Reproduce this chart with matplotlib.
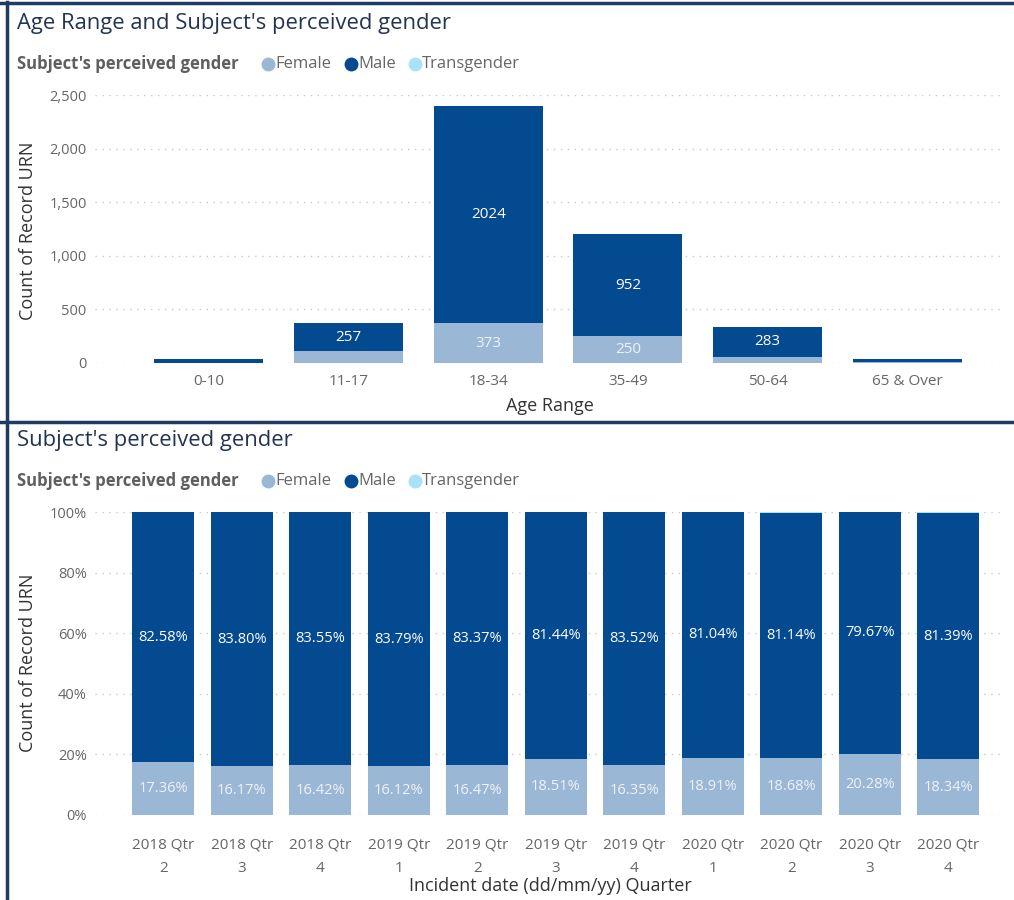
import matplotlib
matplotlib.use("Agg")
import matplotlib.pyplot as plt
from matplotlib.lines import Line2D
import numpy as np

plt.rcParams['font.family'] = ['Open Sans', 'DejaVu Sans']

# ---- data ----
age_ranges = ["0-10", "11-17", "18-34", "35-49", "50-64", "65 & Over"]
age_female = [4, 112, 373, 250, 55, 5]
age_male = [33, 257, 2024, 952, 283, 30]
age_trans = [0, 0, 2, 1, 0, 0]
age_male_labels = ["", "257", "2024", "952", "283", ""]
age_female_labels = ["", "", "373", "250", "", ""]

quarters = ["2018 Qtr\n2", "2018 Qtr\n3", "2018 Qtr\n4", "2019 Qtr\n1", "2019 Qtr\n2",
            "2019 Qtr\n3", "2019 Qtr\n4", "2020 Qtr\n1", "2020 Qtr\n2", "2020 Qtr\n3",
            "2020 Qtr\n4"]
q_female = [17.36, 16.17, 16.42, 16.12, 16.47, 18.51, 16.35, 18.91, 18.68, 20.28, 18.34]
q_male = [82.58, 83.80, 83.55, 83.79, 83.37, 81.44, 83.52, 81.04, 81.14, 79.67, 81.39]
q_trans = [100 - f - m for f, m in zip(q_female, q_male)]

yticks_top = [0, 500, 1000, 1500, 2000, 2500]
yticks_bottom = [0, 20, 40, 60, 80, 100]

# ---- style ----
C_FEMALE = "#9BB7D6"
C_MALE = "#044A91"
C_TRANS = "#A8E2FA"
C_TICK = "#666666"
C_TITLE = "#22344F"
C_GRID = "#C8C8C8"
C_BORDER = "#1F3B63"

W, H = 1014, 900
fig = plt.figure(figsize=(W / 100, H / 100), dpi=100)
fig.patch.set_facecolor("white")


def fx(x):
    return x / W


def fy(y):
    return 1 - y / H


def add_ax(left, top, right, bottom):
    return fig.add_axes([fx(left), fy(bottom), fx(right) - fx(left), (bottom - top) / H])


def legend_row(y):
    fig.text(fx(17), fy(y), "Subject's perceived gender", fontsize=12, fontweight="bold",
             color="#5F5F5F", va="center", ha="left")
    items = [("Female", C_FEMALE, 268), ("Male", C_MALE, 351), ("Transgender", C_TRANS, 415)]
    for name, col, x in items:
        fig.add_artist(Line2D([fx(x)], [fy(y)], marker="o", markersize=9, color=col,
                              transform=fig.transFigure))
        fig.text(fx(x + 7), fy(y), name, fontsize=12, color="#666666", va="center", ha="left")


def style_axes(ax, ticks, fmt):
    for s in ax.spines.values():
        s.set_visible(False)
    ax.set_yticks(ticks)
    ax.set_yticklabels([fmt(t) for t in ticks], color=C_TICK, fontsize=10.5)
    ax.tick_params(axis="both", length=0, pad=6)
    ax.tick_params(axis="x", colors=C_TICK, labelsize=10.5, pad=8)
    ax.grid(axis="y", color=C_GRID, linestyle=(0, (1, 4)), linewidth=1)
    ax.set_axisbelow(True)


# ---- top chart: counts by age range ----
fig.text(fx(17), fy(23), "Age Range and Subject's perceived gender", fontsize=15.8,
         color=C_TITLE, va="center", ha="left")
legend_row(64)

ax1 = add_ax(95, 95, 1005, 363)
x1 = np.arange(len(age_ranges))
bw = 0.78
ax1.bar(x1, age_female, bw, color=C_FEMALE)
ax1.bar(x1, age_male, bw, bottom=age_female, color=C_MALE)
ax1.bar(x1, age_trans, bw, bottom=np.add(age_female, age_male), color=C_TRANS)
for i in range(len(age_ranges)):
    if age_male_labels[i]:
        ax1.text(x1[i], age_female[i] + age_male[i] / 2, age_male_labels[i], color="white",
                 ha="center", va="center", fontsize=11)
    if age_female_labels[i]:
        ax1.text(x1[i], age_female[i] / 2, age_female_labels[i], color="#EEF3F9",
                 ha="center", va="center", fontsize=11)
ax1.set_xlim(-0.816, 5.7)
ax1.set_ylim(0, 2500)
style_axes(ax1, yticks_top, lambda t: f"{t:,}")
ax1.set_xticks(x1)
ax1.set_xticklabels(age_ranges, fontsize=11)
ax1.set_xlabel("Age Range", fontsize=13, color="#333333", labelpad=6)
fig.text(fx(28), fy(231), "Count of Record URN", rotation=90, fontsize=13,
         color="#333333", ha="center", va="center")

# ---- bottom chart: share by quarter ----
fig.text(fx(17), fy(440), "Subject's perceived gender", fontsize=15.8,
         color=C_TITLE, va="center", ha="left")
legend_row(481)

ax2 = add_ax(95, 512, 1005, 815)
x2 = np.arange(len(quarters))
bw2 = 0.79
ax2.bar(x2, q_female, bw2, color=C_FEMALE)
ax2.bar(x2, q_male, bw2, bottom=q_female, color=C_MALE)
ax2.bar(x2, q_trans, bw2, bottom=np.add(q_female, q_male), color=C_TRANS)
for i in range(len(quarters)):
    ax2.text(x2[i], q_female[i] + q_male[i] / 2, f"{q_male[i]:.2f}%", color="white",
             ha="center", va="center", fontsize=10.5)
    ax2.text(x2[i], q_female[i] / 2, f"{q_female[i]:.2f}%", color="#EEF3F9",
             ha="center", va="center", fontsize=10.5)
ax2.set_xlim(-0.869, 10.72)
ax2.set_ylim(0, 100)
style_axes(ax2, yticks_bottom, lambda t: f"{t}%")
ax2.tick_params(axis="x", pad=16)
ax2.set_xticks(x2)
ax2.set_xticklabels(quarters, linespacing=1.8, fontsize=11)
ax2.set_xlabel("Incident date (dd/mm/yy) Quarter", fontsize=13, color="#333333", labelpad=1)
fig.text(fx(28), fy(663), "Count of Record URN", rotation=90, fontsize=13,
         color="#333333", ha="center", va="center")

# ---- panel frames ----
fig.add_artist(Line2D([fx(0), fx(W)], [fy(3), fy(3)], color=C_BORDER, lw=2.5,
                      transform=fig.transFigure))
fig.add_artist(Line2D([fx(0), fx(W)], [fy(422), fy(422)], color=C_BORDER, lw=2.5,
                      transform=fig.transFigure))
fig.add_artist(Line2D([fx(7), fx(7)], [fy(2), fy(H)], color=C_BORDER, lw=2.5,
                      transform=fig.transFigure))

fig.savefig("out.png", dpi=100, facecolor="white")
